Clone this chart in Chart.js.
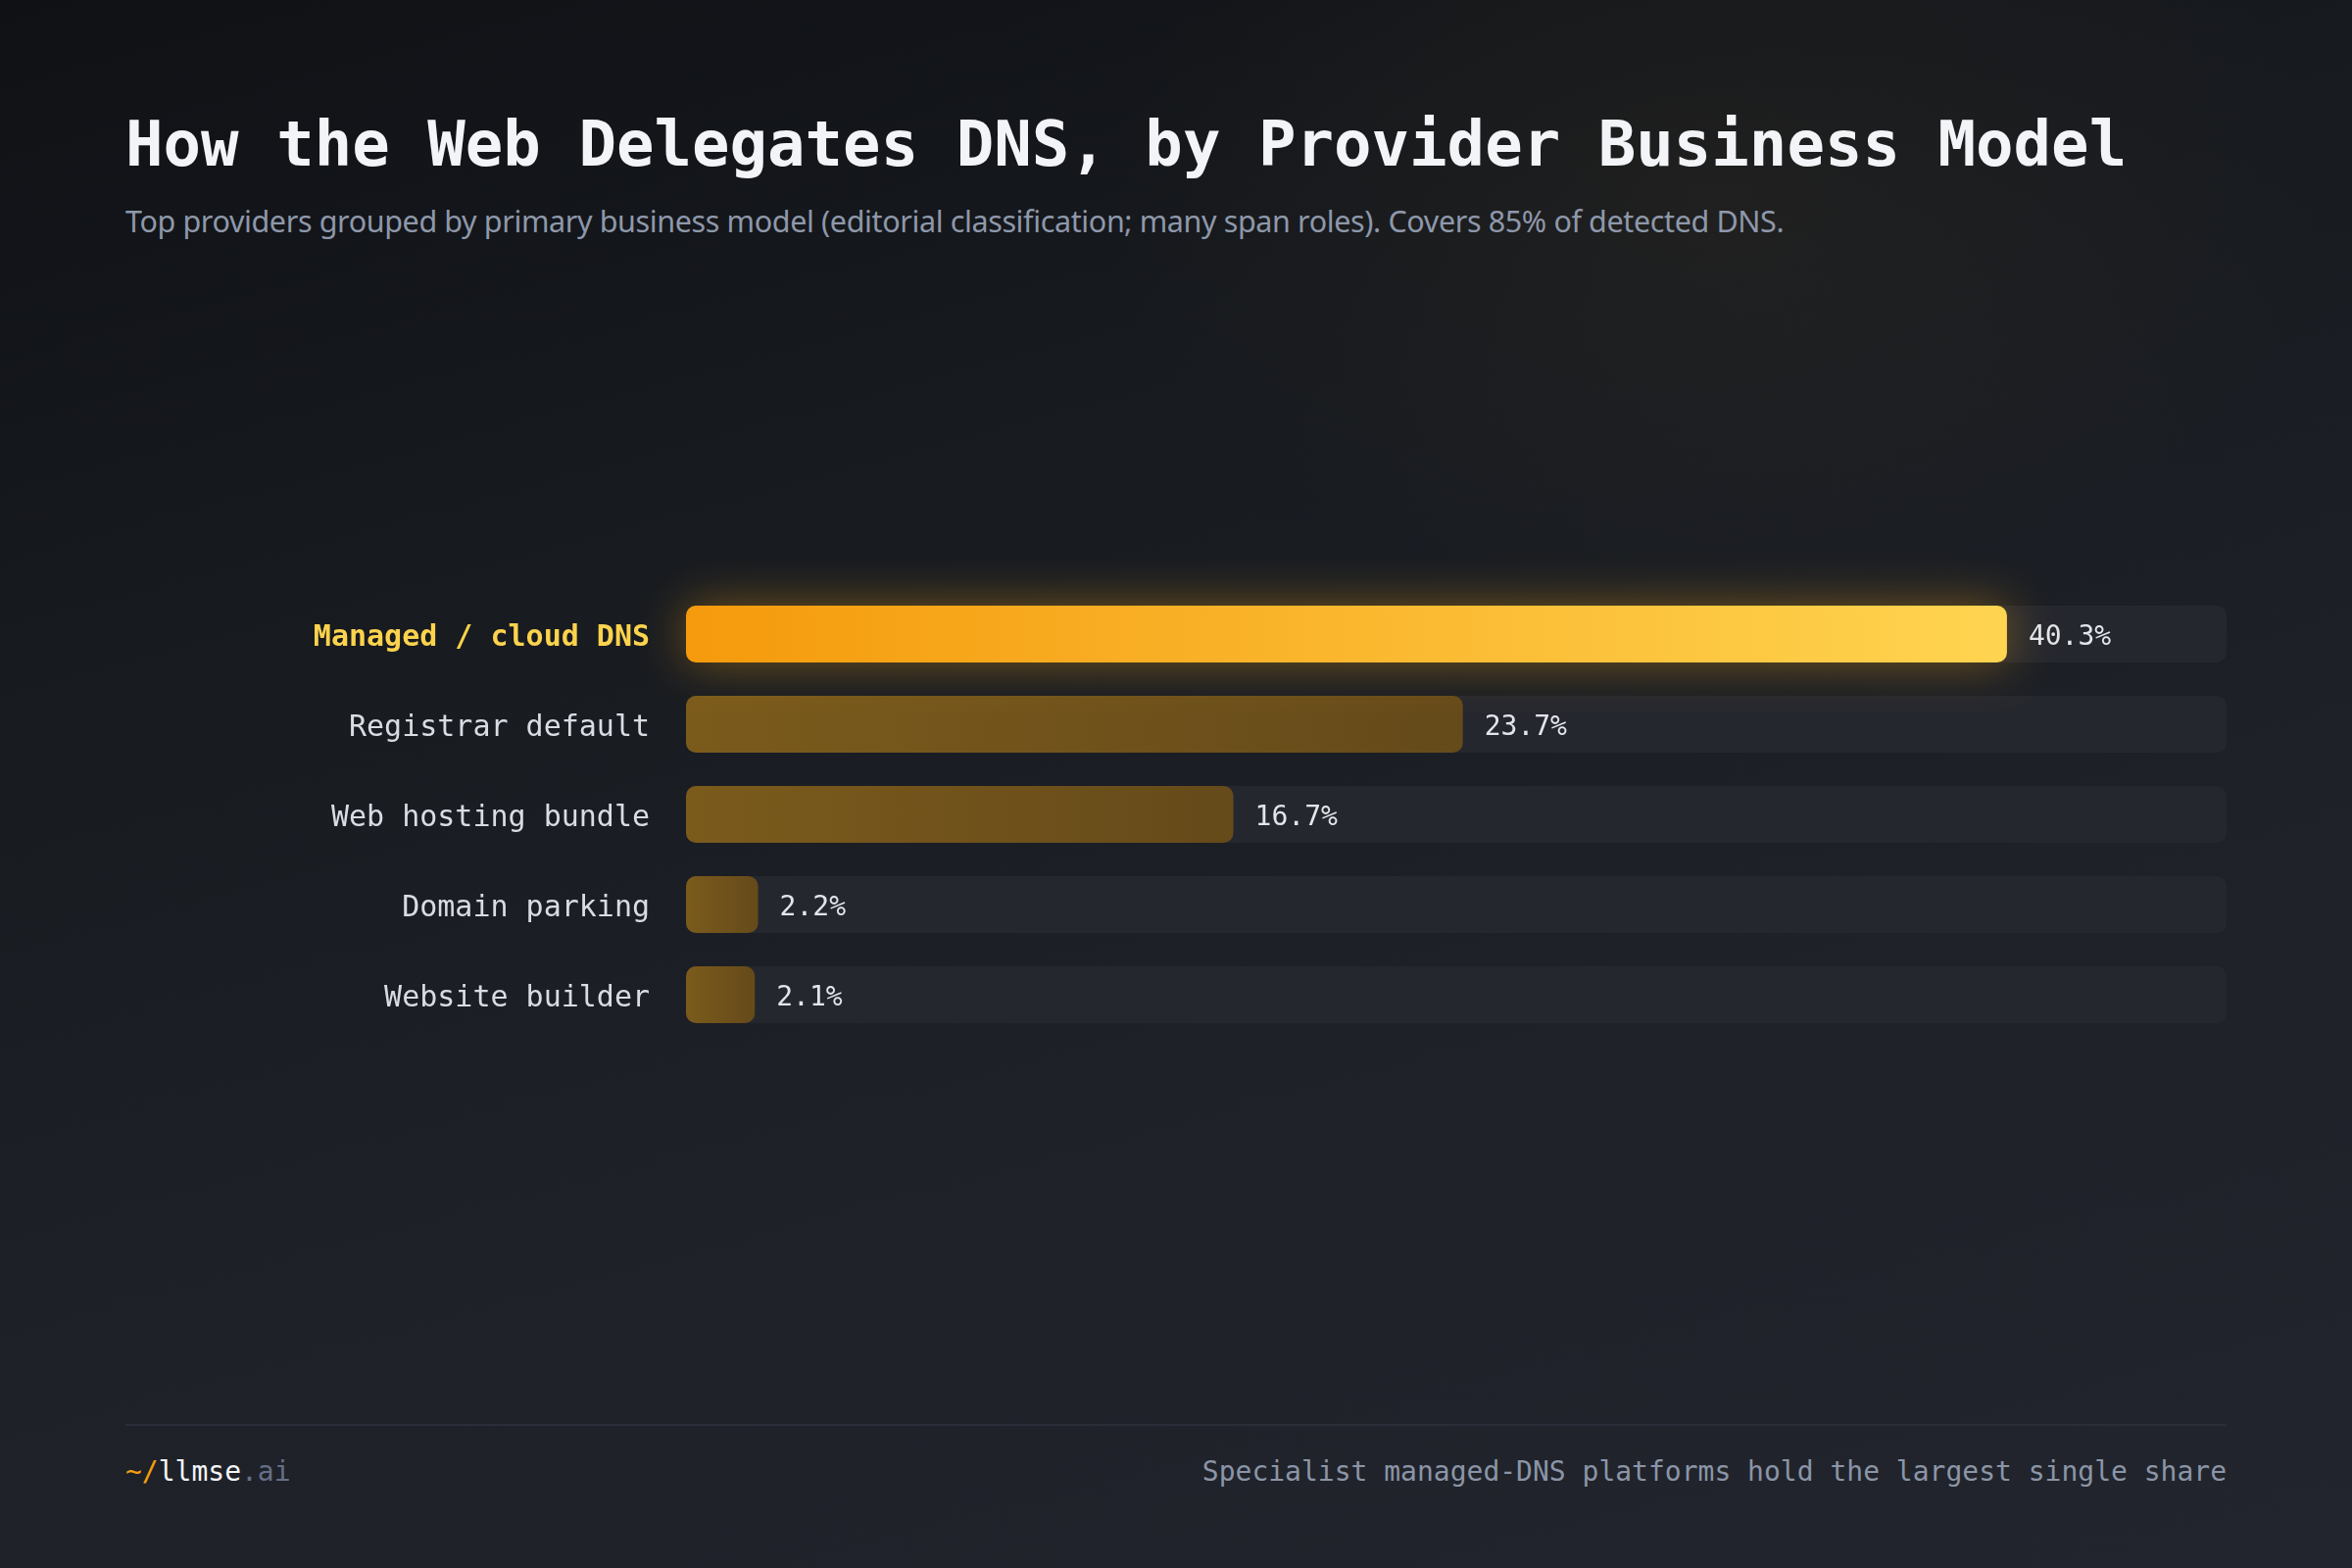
<!DOCTYPE html>
<html>
<head>
<meta charset="utf-8">
<script src="https://cdn.jsdelivr.net/npm/chart.js@4.4.1/dist/chart.umd.min.js"></script>
<style>
    html, body {
        margin: 0;
        padding: 0;
        width: 2400px;
        height: 1600px;
        overflow: hidden;
    }
    body {
        position: relative;
        background:
            radial-gradient(ellipse 900px 600px at 1750px 200px, rgba(110, 85, 40, 0.10), rgba(0, 0, 0, 0) 70%),
            linear-gradient(165deg, #0f1115 0%, #181b20 35%, #1e2128 65%, #22252d 100%);
        font-family: "DejaVu Sans Mono", monospace;
    }
    .title {
        position: absolute;
        left: 128px;
        top: 115px;
        font-size: 64px;
        line-height: 64px;
        font-weight: bold;
        color: #f3f4f7;
        white-space: nowrap;
    }
    .subtitle {
        position: absolute;
        left: 128px;
        top: 209px;
        font-family: "Noto Sans", sans-serif;
        font-size: 30.5px;
        letter-spacing: -0.38px;
        line-height: 32px;
        color: #8e98aa;
        white-space: nowrap;
    }
    .chart-box {
        position: absolute;
        left: 128px;
        top: 541px;
        width: 2144px;
        height: 580px;
    }
    .rule {
        position: absolute;
        left: 128px;
        top: 1453px;
        width: 2144px;
        height: 2px;
        background: #2a2e38;
    }
    .brand {
        position: absolute;
        left: 128px;
        top: 1488px;
        font-size: 28px;
        line-height: 28px;
        color: #f4f5f7;
        white-space: nowrap;
    }
    .brand .tilde { color: #f59e0b; }
    .brand .tld { color: #667085; }
    .note {
        position: absolute;
        right: 128px;
        top: 1488px;
        font-size: 28px;
        line-height: 28px;
        color: #8b95a7;
        white-space: nowrap;
    }
</style>
</head>
<body>
<div class="title">How the Web Delegates DNS, by Provider Business Model</div>
<div class="subtitle">Top providers grouped by primary business model (editorial classification; many span roles). Covers 85% of detected DNS.</div>
<div class="chart-box"><canvas id="chart"></canvas></div>
<div class="rule"></div>
<div class="brand"><span class="tilde">~/</span>llmse<span class="tld">.ai</span></div>
<div class="note">Specialist managed-DNS platforms hold the largest single share</div>

<script>
const categories = ['Managed / cloud DNS', 'Registrar default', 'Web hosting bundle', 'Domain parking', 'Website builder'];
const shares = [40.3, 23.7, 16.7, 2.2, 2.1];
const axisMax = 47;

const highlightIndex = 0;
const trackValues = categories.map(() => axisMax);
const highlightValues = shares.map((v, i) => i === highlightIndex ? v : null);
const restValues = shares.map((v, i) => i === highlightIndex ? null : v);

function barGradient(context, from, to) {
    const chart = context.chart;
    const area = chart.chartArea;
    if (!area) return from;
    const xScale = chart.scales.x;
    const value = context.raw || 0;
    const x0 = xScale.getPixelForValue(0);
    const x1 = Math.max(xScale.getPixelForValue(value), x0 + 1);
    const g = chart.ctx.createLinearGradient(x0, 0, x1, 0);
    g.addColorStop(0, from);
    g.addColorStop(1, to);
    return g;
}

// glow under the highlighted bar
const glowPlugin = {
    id: 'glow',
    beforeDatasetDraw(chart, args) {
        if (args.index !== 1) return;
        const ctx = chart.ctx;
        ctx.save();
        ctx.shadowColor = 'rgba(245, 165, 20, 0.42)';
        ctx.shadowBlur = 50;
    },
    afterDatasetDraw(chart, args) {
        if (args.index !== 1) return;
        chart.ctx.restore();
    }
};

// value text after each bar
const valueLabels = {
    id: 'valueLabels',
    afterDatasetsDraw(chart) {
        const ctx = chart.ctx;
        ctx.save();
        ctx.font = '28px "DejaVu Sans Mono"';
        ctx.fillStyle = '#e3e5ea';
        ctx.textAlign = 'left';
        ctx.textBaseline = 'middle';
        [1, 2].forEach(di => {
            const meta = chart.getDatasetMeta(di);
            meta.data.forEach((bar, i) => {
                const v = chart.data.datasets[di].data[i];
                if (v == null) return;
                ctx.fillText(v.toFixed(1) + '%', bar.x + 22, bar.y + 4);
            });
        });
        ctx.restore();
    }
};

new Chart(document.getElementById('chart'), {
    type: 'bar',
    data: {
        labels: categories,
        datasets: [
            {
                label: 'track',
                data: trackValues,
                backgroundColor: '#25272e',
                borderRadius: 10,
                borderSkipped: false,
                grouped: false,
                order: 3,
                barPercentage: 0.63,
                categoryPercentage: 1
            },
            {
                label: 'highlight',
                data: highlightValues,
                backgroundColor: ctx => barGradient(ctx, '#f59a0c', '#ffd450'),
                borderRadius: 10,
                borderSkipped: false,
                grouped: false,
                clip: false,
                order: 1,
                barPercentage: 0.63,
                categoryPercentage: 1
            },
            {
                label: 'share',
                data: restValues,
                backgroundColor: ctx => barGradient(ctx, '#7b5b1c', '#654a1a'),
                borderRadius: 10,
                borderSkipped: false,
                grouped: false,
                order: 2,
                barPercentage: 0.63,
                categoryPercentage: 1
            }
        ]
    },
    options: {
        indexAxis: 'y',
        responsive: true,
        maintainAspectRatio: false,
        animation: false,
        layout: { padding: { top: 60, bottom: 60 } },
        plugins: {
            legend: { display: false },
            tooltip: { enabled: false }
        },
        scales: {
            x: {
                display: false,
                min: 0,
                max: axisMax
            },
            y: {
                afterFit(scale) {
                    scale.width = 572;
                    scale.paddingTop = 0;
                    scale.paddingBottom = 0;
                },
                grid: { display: false, drawTicks: false },
                border: { display: false },
                ticks: {
                    padding: 37,
                    labelOffset: 4,
                    font: ctx => ({
                        family: '"DejaVu Sans Mono"',
                        size: 30,
                        weight: ctx.index === highlightIndex ? 'bold' : 'normal'
                    }),
                    color: ctx => ctx.index === highlightIndex ? '#fcd34d' : '#d9dce3'
                }
            }
        }
    },
    plugins: [glowPlugin, valueLabels]
});
</script>
</body>
</html>
